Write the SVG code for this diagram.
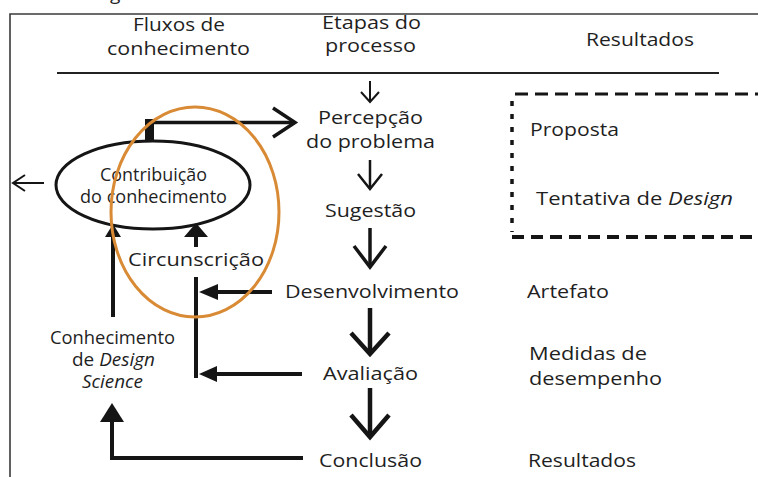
<svg xmlns="http://www.w3.org/2000/svg" width="758" height="477" viewBox="0 0 758 477">
<style>
text{font-family:"Open Sans","DejaVu Sans",sans-serif;fill:#1f1f1f;font-size:19px}
.s{font-size:18px}
.i{font-style:italic}
.ln{stroke:#151515;fill:none}
.tri{fill:#151515;stroke:none}
</style>
<rect width="758" height="477" fill="#ffffff"/>
<text x="110" y="0" font-size="20">g</text>
<path d="M10,477 V14 H758" fill="none" stroke="#3a3a3a" stroke-width="1.6"/>
<line x1="57" y1="73" x2="719" y2="73" stroke="#222" stroke-width="2"/>

<g id="headers">
<text x="133" y="31" textLength="92" lengthAdjust="spacingAndGlyphs">Fluxos de</text>
<text x="107" y="55" textLength="143" lengthAdjust="spacingAndGlyphs">conhecimento</text>
<text x="322" y="29" textLength="99" lengthAdjust="spacingAndGlyphs">Etapas do</text>
<text x="325" y="52" textLength="91" lengthAdjust="spacingAndGlyphs">processo</text>
<text x="586" y="46" textLength="108" lengthAdjust="spacingAndGlyphs">Resultados</text>
</g>

<g id="percepcao">
<text x="318" y="124" textLength="105" lengthAdjust="spacingAndGlyphs">Percepção</text>
<text x="306" y="148" textLength="129" lengthAdjust="spacingAndGlyphs">do problema</text>
</g>
<g id="sugestao"><text x="325" y="217" textLength="91" lengthAdjust="spacingAndGlyphs">Sugestão</text></g>
<g id="desenvolvimento"><text x="285" y="298" textLength="174" lengthAdjust="spacingAndGlyphs">Desenvolvimento</text></g>
<g id="avaliacao"><text x="323" y="380" textLength="95" lengthAdjust="spacingAndGlyphs">Avaliação</text></g>
<g id="conclusao"><text x="319" y="467" textLength="103" lengthAdjust="spacingAndGlyphs">Conclusão</text></g>

<g id="resultados-box">
<line x1="515" y1="94" x2="758" y2="94" stroke="#151515" stroke-width="3" stroke-dasharray="13 7"/>
<line x1="512" y1="101" x2="512" y2="232" stroke="#151515" stroke-width="3.5" stroke-dasharray="5 8"/>
<line x1="512" y1="237" x2="758" y2="237" stroke="#151515" stroke-width="4" stroke-dasharray="12 7"/>
<text x="530" y="136" textLength="89" lengthAdjust="spacingAndGlyphs">Proposta</text>
<text x="536" y="205" textLength="197" lengthAdjust="spacingAndGlyphs">Tentativa de <tspan class="i">Design</tspan></text>
</g>
<g id="artefato"><text x="527" y="298" textLength="82" lengthAdjust="spacingAndGlyphs">Artefato</text></g>
<g id="medidas">
<text x="529" y="360" textLength="118" lengthAdjust="spacingAndGlyphs">Medidas de</text>
<text x="529" y="385" textLength="133" lengthAdjust="spacingAndGlyphs">desempenho</text>
</g>
<g id="resultados"><text x="528" y="467" textLength="108" lengthAdjust="spacingAndGlyphs">Resultados</text></g>

<g id="contribuicao">
<ellipse cx="153" cy="185" rx="97" ry="44" fill="none" stroke="#151515" stroke-width="3"/>
<text class="s" x="100" y="181" textLength="107" lengthAdjust="spacingAndGlyphs">Contribuição</text>
<text class="s" x="80" y="203" textLength="147" lengthAdjust="spacingAndGlyphs">do conhecimento</text>
</g>
<g id="circunscricao"><text x="128" y="266" textLength="136" lengthAdjust="spacingAndGlyphs">Circunscrição</text></g>
<g id="conhecimento-ds">
<text class="s" x="50" y="344" textLength="125" lengthAdjust="spacingAndGlyphs">Conhecimento</text>
<text class="s" x="72" y="366" textLength="83" lengthAdjust="spacingAndGlyphs">de <tspan class="i">Design</tspan></text>
<text class="s i" x="82" y="388" textLength="61" lengthAdjust="spacingAndGlyphs">Science</text>
</g>

<g id="connectors">
<line class="ln" x1="370" y1="81" x2="370" y2="101" stroke-width="2"/>
<polyline class="ln" points="361,92 370,102 379,92" stroke-width="2"/>
<line class="ln" x1="370" y1="160" x2="370" y2="188" stroke-width="2.5"/>
<polyline class="ln" points="358,174 370,189 382,174" stroke-width="2.5"/>
<line class="ln" x1="370" y1="228" x2="370" y2="266" stroke-width="3.5"/>
<polyline class="ln" points="354,246 370,267 386,246" stroke-width="3.5"/>
<line class="ln" x1="370" y1="308" x2="370" y2="353" stroke-width="4.5"/>
<polyline class="ln" points="351,333 370,354 389,333" stroke-width="4.5"/>
<line class="ln" x1="370" y1="388" x2="370" y2="436" stroke-width="4.5"/>
<polyline class="ln" points="351,415 370,437 389,415" stroke-width="4.5"/>
<rect x="145" y="119" width="9" height="22" fill="#151515"/>
<line class="ln" x1="145" y1="122.5" x2="293" y2="122.5" stroke-width="3.5"/>
<polyline class="ln" points="273,108 295,122.5 273,137" stroke-width="3.5"/>
<line class="ln" x1="13" y1="183" x2="44" y2="183" stroke-width="2"/>
<polyline class="ln" points="25,175 13,183 25,191" stroke-width="2"/>
<line class="ln" x1="113" y1="317" x2="113" y2="234" stroke-width="4"/>
<polygon class="tri" points="113,224 121,237 105,237"/>
<line class="ln" x1="196" y1="247" x2="196" y2="234" stroke-width="4"/>
<polygon class="tri" points="196,223 208,237 184,237"/>
<line class="ln" x1="196" y1="277" x2="196" y2="378" stroke-width="4"/>
<line class="ln" x1="272" y1="292" x2="214" y2="292" stroke-width="4"/>
<polygon class="tri" points="199,292 218,284 218,300"/>
<line class="ln" x1="302" y1="374" x2="214" y2="374" stroke-width="4"/>
<polygon class="tri" points="199,374 217,366 217,382"/>
<polyline class="ln" points="303,458 112,458 112,418" stroke-width="4"/>
<polygon class="tri" points="112,403 124,422 100,422"/>
</g>

<g id="highlight">
<ellipse cx="195" cy="212" rx="84" ry="105" fill="none" stroke="#D98A35" stroke-width="3"/>
</g>
</svg>
